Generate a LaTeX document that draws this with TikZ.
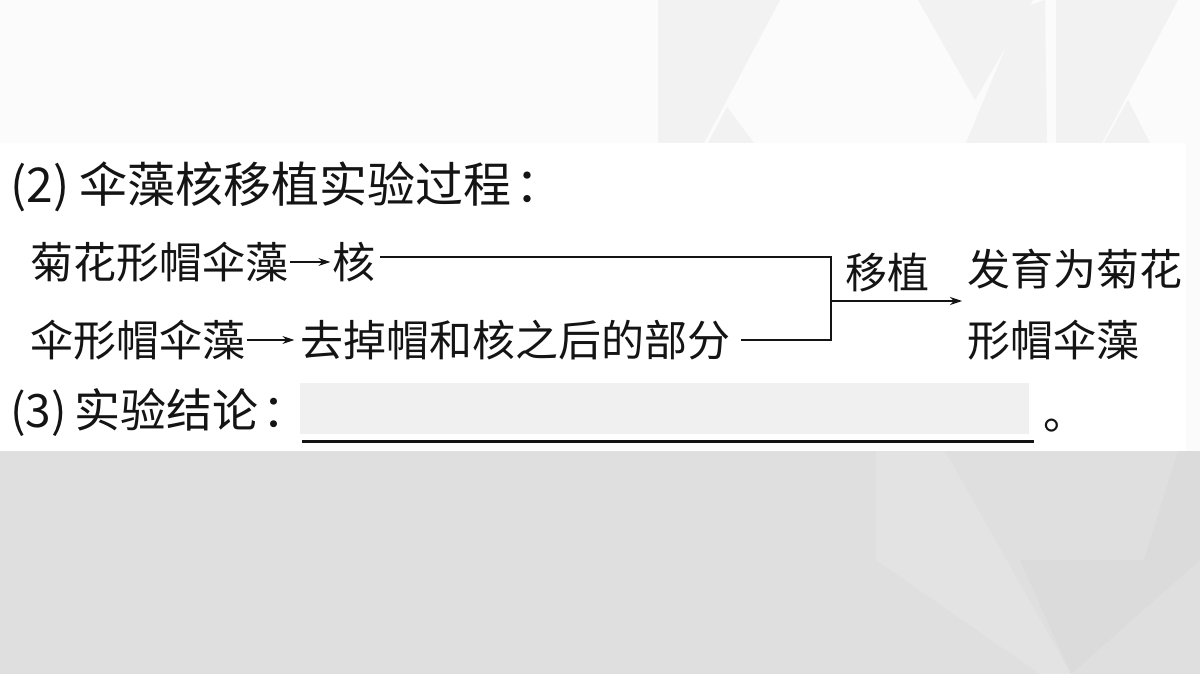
\documentclass[tikz,border=0pt]{standalone}
\usepackage{fontspec}
\setmainfont{Noto Sans CJK SC}
\usepackage{tikz}
\usetikzlibrary{arrows.meta,positioning}
\definecolor{ink}{HTML}{141414}
\definecolor{paper}{HTML}{FFFFFF}
\definecolor{topbg}{HTML}{FBFBFB}
\definecolor{topfac}{HTML}{F2F2F2}
\definecolor{lowbg}{HTML}{DFDFDF}
\definecolor{lowfac}{HTML}{E3E3E3}
\definecolor{lowdark}{HTML}{DBDBDB}
\definecolor{blankbg}{HTML}{F0F0F0}
\tikzset{
  ln/.style={draw=ink, line width=1.2pt},
  arr/.style={ln, -{Stealth[length=12pt,width=8pt]}},
  hd/.style={text=ink, inner sep=0pt, anchor=west, font=\fontsize{48}{48}\selectfont},
  tx/.style={text=ink, inner sep=0pt, anchor=west, font=\fontsize{43}{43}\selectfont},
}

\begin{document}
\begin{tikzpicture}[x=1pt,y=-1pt]
% background
\fill[topbg] (0,0) rectangle (1200,674);
\fill[topfac] (658,0) -- (780,0) -- (704,143) -- (658,143) -- cycle;
\fill[topfac] (708,143) -- (727,107) -- (754,143) -- cycle;
\fill[topfac] (918,0) -- (1033,0) -- (975,100) -- cycle;
\fill[topfac] (966,143) -- (1022,8) -- (1045,0) -- (1047,143) -- cycle;
\fill[topfac] (1056,0) -- (1178,0) -- (1102,143) -- (1056,143) -- cycle;
\fill[topfac] (1104,143) -- (1128,100) -- (1150,143) -- cycle;
\fill[lowbg] (0,451) rectangle (1200,674);
\fill[lowfac] (876,451) -- (945,451) -- (1071,674) -- (1040,674) -- (876,560) -- cycle;
\fill[lowdark] (1020,560) -- (1144,560) -- (1178,451) -- (1200,451) -- (1200,560) -- (1071,674) -- cycle;
\fill[paper] (0,143) rectangle (1186,451);

% text
\node[hd] (hd2) at (10,187) {(2)\hspace{10pt}伞藻核移植实验过程\hspace{4pt}：};
\node[tx] (jh) at (30,262) {菊花形帽伞藻};
\node[tx, right=44pt of jh] (he) {核};
\node[tx] (sx) at (30,340) {伞形帽伞藻};
\node[tx, right=55pt of sx] (qc) {去掉帽和核之后的部分};
\node[tx, font=\fontsize{42}{42}\selectfont] (yz) at (845,273) {移植};
\node[tx] (fy1) at (967,269) {发育为菊花};
\node[tx] (fy2) at (967,340) {形帽伞藻};
\node[hd, font=\fontsize{46}{46}\selectfont] (hd3) at (10,413) {(3)\hspace{8pt}实验结论\hspace{4pt}：};
\node[fill=blankbg, inner sep=0pt, minimum width=729pt, minimum height=51pt, anchor=north west] (blank) at (300,383) {};
\node[tx, anchor=west] (dot) at (1043,426) {。};
\coordinate (jx) at (831,301);

% connectors
\draw[arr] ([xshift=2pt]jh.east) -- ([xshift=-2pt]he.west);
\draw[arr] ([xshift=2pt]sx.east) -- ([xshift=-6pt]qc.west);
\draw[ln] ([xshift=4pt,yshift=5pt]he.east) -- ([yshift=5pt]he.east -| jx) -- (qc.east -| jx) -- ([xshift=10pt]qc.east);
\draw[arr] (jx) -- ([xshift=-5pt]fy1.west |- jx);
\draw[draw=ink, line width=2.4pt] ([xshift=2pt,yshift=-7pt]blank.south west) -- ([xshift=5pt,yshift=-7pt]blank.south east);
\end{tikzpicture}
\end{document}
